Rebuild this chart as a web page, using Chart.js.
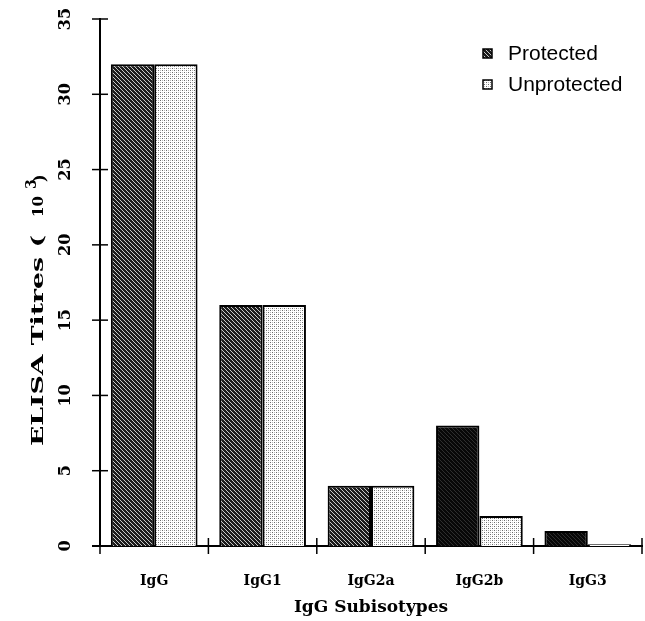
<!DOCTYPE html>
<html>
<head>
<meta charset="utf-8">
<script src="https://cdn.jsdelivr.net/npm/chart.js@4.4.1/dist/chart.umd.min.js"></script>
<style>
  html, body { margin: 0; padding: 0; background: #fff; }
  #wrap { width: 645px; height: 621px; position: relative; }
</style>
</head>
<body>
<div id="wrap"><canvas id="chart"></canvas></div>
<script>
// values (titres in 10^3)
const categories = ['IgG', 'IgG1', 'IgG2a', 'IgG2b', 'IgG3'];
const protectedTitres = [32, 16, 4, 8, 1];
const unprotectedTitres = [32, 16, 4, 2, 0.12];
const yTicks = [0, 5, 10, 15, 20, 25, 30, 35];
const seriesNames = ['Protected', 'Unprotected'];

const serif = 'DejaVu Serif';

function makePattern(size, bg, dots) {
  const c = document.createElement('canvas');
  c.width = c.height = size;
  const g = c.getContext('2d');
  g.fillStyle = bg;
  g.fillRect(0, 0, size, size);
  dots.forEach(d => {
    g.fillStyle = d[2];
    g.fillRect(d[0], d[1], 1, 1);
  });
  return g.createPattern(c, 'repeat');
}

// diagonal hatch, lines running top-left to bottom-right
const hatch = makePattern(4, '#1c1c1c', [[0, 0, '#c8c8c8'], [1, 1, '#c8c8c8'], [2, 2, '#c8c8c8'], [3, 3, '#c8c8c8']]);
const darkHatch = makePattern(4, '#080808', [[0, 0, '#2e2e2e'], [1, 1, '#2e2e2e'], [2, 2, '#2e2e2e'], [3, 3, '#2e2e2e']]);
const stipple = makePattern(4, '#ffffff', [[0, 0, '#6a6a6a'], [2, 2, '#6a6a6a'], [2, 0, '#b8b8b8'], [0, 2, '#b8b8b8']]);

const decorations = {
  id: 'decorations',
  afterDraw(chart) {
    const ctx = chart.ctx;
    const area = chart.chartArea;
    const xs = chart.scales.x;
    const ys = chart.scales.y;
    ctx.save();
    ctx.strokeStyle = '#000';
    ctx.fillStyle = '#000';
    ctx.lineWidth = 1.5;

    // crossing ticks on y axis
    yTicks.forEach(v => {
      const py = ys.getPixelForValue(v);
      ctx.beginPath();
      ctx.moveTo(area.left - 8, py);
      ctx.lineTo(area.left + 8, py);
      ctx.stroke();
    });
    // crossing ticks between categories on x axis
    for (let i = 0; i <= categories.length; i++) {
      const px = xs.getPixelForValue(i - 0.5);
      ctx.beginPath();
      ctx.moveTo(px, area.bottom - 8);
      ctx.lineTo(px, area.bottom + 8);
      ctx.stroke();
    }
    // x axis runs a bit past the y axis
    ctx.lineWidth = 2;
    ctx.beginPath();
    ctx.moveTo(area.left - 8, area.bottom);
    ctx.lineTo(area.left, area.bottom);
    ctx.stroke();

    // rotated y tick labels
    ctx.font = 'bold 16px "' + serif + '"';
    ctx.textAlign = 'center';
    ctx.textBaseline = 'middle';
    yTicks.forEach(v => {
      const py = ys.getPixelForValue(v);
      ctx.save();
      ctx.translate(66, py);
      ctx.rotate(-Math.PI / 2);
      ctx.fillText(String(v), 0, 0);
      ctx.restore();
    });

    // y axis title: ELISA Titres ( 10^3 )
    ctx.save();
    ctx.translate(39, 446);
    ctx.rotate(-Math.PI / 2);
    ctx.textAlign = 'left';
    ctx.textBaseline = 'middle';
    ctx.font = 'bold 17px "' + serif + '"';
    const main = 'ELISA Titres (';
    const stretch = 211 / ctx.measureText(main).width;
    ctx.save();
    ctx.scale(stretch, 1);
    ctx.fillText(main, 0, 0);
    ctx.restore();
    ctx.font = 'bold 15px "' + serif + '"';
    ctx.fillText('10', 229, 0);
    ctx.font = 'bold 14px "' + serif + '"';
    ctx.fillText('3', 257, -7);
    ctx.font = 'bold 16px "' + serif + '"';
    ctx.fillText(')', 264, 2);
    ctx.restore();

    // legend
    const entries = [[seriesNames[0], hatch, 53.5], [seriesNames[1], stipple, 84.5]];
    ctx.font = '21px "Liberation Sans"';
    ctx.textAlign = 'left';
    ctx.textBaseline = 'middle';
    entries.forEach(e => {
      ctx.fillStyle = e[1];
      ctx.fillRect(483, e[2] - 4.5, 9, 9);
      ctx.lineWidth = 1.5;
      ctx.strokeRect(483, e[2] - 4.5, 9, 9);
      ctx.fillStyle = '#000';
      ctx.fillText(e[0], 508, e[2] + 1);
    });
    ctx.restore();
  }
};

new Chart(document.getElementById('chart'), {
  type: 'bar',
  data: {
    labels: categories,
    datasets: [
      {
        label: seriesNames[0],
        data: protectedTitres,
        backgroundColor: c => (c.dataIndex >= 3 ? darkHatch : hatch),
        borderColor: '#000',
        borderWidth: 2,
        categoryPercentage: 0.8,
        barPercentage: 1.0
      },
      {
        label: seriesNames[1],
        data: unprotectedTitres,
        backgroundColor: stipple,
        borderColor: '#000',
        borderWidth: 2,
        categoryPercentage: 0.8,
        barPercentage: 1.0
      }
    ]
  },
  options: {
    responsive: true,
    maintainAspectRatio: false,
    animation: false,
    layout: { padding: { top: 19, right: 3, left: 0, bottom: 0 } },
    plugins: {
      legend: { display: false },
      tooltip: { enabled: false }
    },
    scales: {
      x: {
        grid: { display: false, drawTicks: false },
        border: { display: true, color: '#000', width: 2 },
        ticks: {
          color: '#000',
          padding: 27,
          font: { family: serif, weight: 'bold', size: 14 }
        },
        title: {
          display: true,
          text: 'IgG Subisotypes',
          color: '#000',
          font: { family: serif, weight: 'bold', size: 17 },
          padding: { top: 4, bottom: 3 }
        },
        afterFit(scale) { scale.height = 75; }
      },
      y: {
        min: 0,
        max: 35,
        grid: { display: false, drawTicks: false },
        border: { display: true, color: '#000', width: 2 },
        ticks: { display: false, stepSize: 5 },
        afterFit(scale) { scale.width = 100; }
      }
    }
  },
  plugins: [decorations]
});
</script>
</body>
</html>
